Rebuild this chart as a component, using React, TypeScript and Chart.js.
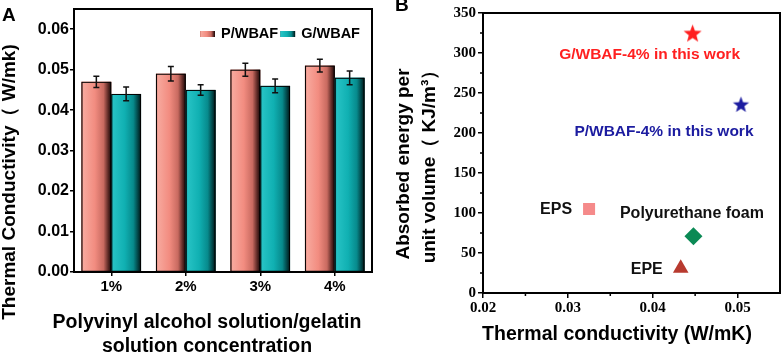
import React, { useEffect, useRef } from 'react';
import { Chart, registerables } from 'chart.js';

Chart.register(...registerables);

// ---------------- data: panel A ----------------
const concentrations = ['1%', '2%', '3%', '4%'];
const seriesNames = ['P/WBAF', 'G/WBAF'];
const pwbafConductivity = [0.047, 0.049, 0.05, 0.051];
const pwbafError = [0.0014, 0.0018, 0.0016, 0.0016];
const gwbafConductivity = [0.044, 0.045, 0.046, 0.048];
const gwbafError = [0.0017, 0.0013, 0.0017, 0.0017];
const barYTicks = [0, 0.01, 0.02, 0.03, 0.04, 0.05, 0.06];

// ---------------- data: panel B ----------------
const materialNames = ['G/WBAF-4% in this work', 'P/WBAF-4% in this work', 'EPS', 'Polyurethane foam', 'EPE'];
const materialConductivity = [0.0447, 0.0504, 0.0325, 0.0448, 0.0433];
const materialEnergy = [325, 236, 105, 71, 31];
const scatterXTicks = [0.02, 0.03, 0.04, 0.05];
const scatterXMinor = [0.025, 0.035, 0.045];
const scatterYTicks = [0, 50, 100, 150, 200, 250, 300, 350];
const scatterYMinor = [25, 75, 125, 175, 225, 275, 325];

// ---------------- styles ----------------
const SANS = "'Liberation Sans', Arial, Helvetica, sans-serif";
const SERIF = "'Liberation Serif', 'Times New Roman', serif";
const barColors = ['#f28c80', '#10b0b2'];
const barStops = [
  [[0, '#c87468'], [0.07, '#f7a89d'], [0.45, '#f28c80'], [0.74, '#c86a60'], [0.9, '#5a2824'], [1, '#180808']],
  [[0, '#0c8c90'], [0.07, '#26c2c4'], [0.45, '#10b0b2'], [0.74, '#078a8c'], [0.9, '#024244'], [1, '#001212']],
];
const markerColors = ['#ff1f1f', '#1c1ca0', '#f58a8a', '#0b8a55', '#b83a2f'];
const labelColors = ['#ff2020', '#1c1ca0', '#111', '#111', '#111'];
const labelFontSizes = [15.5, 15.5, 16, 16, 16];
const labelOffsets = [
  [-43, 22],
  [-77, 28],
  [-33, 1],
  [-1.5, -23],
  [-34, 1],
];

function makeStar(color: string, r: number): HTMLCanvasElement {
  const size = Math.ceil(r * 2 + 2);
  const c = document.createElement('canvas');
  c.width = size;
  c.height = size;
  const ctx = c.getContext('2d')!;
  const cx = size / 2;
  const cy = size / 2 + r * 0.1;
  ctx.beginPath();
  for (let i = 0; i < 10; i++) {
    const ang = -Math.PI / 2 + (i * Math.PI) / 5;
    const rad = i % 2 === 0 ? r : r * 0.42;
    const px = cx + Math.cos(ang) * rad;
    const py = cy + Math.sin(ang) * rad;
    if (i === 0) ctx.moveTo(px, py);
    else ctx.lineTo(px, py);
  }
  ctx.closePath();
  ctx.fillStyle = color;
  ctx.fill();
  return c;
}

const barDecor = {
  id: 'barDecor',
  afterDatasetsDraw(chart: any) {
    const ctx = chart.ctx;
    const yScale = chart.scales.y;
    const errs = [pwbafError, gwbafError];
    chart.data.datasets.forEach((ds: any, di: number) => {
      const meta = chart.getDatasetMeta(di);
      meta.data.forEach((bar: any, i: number) => {
        const { x, y, base, width } = bar.getProps(['x', 'y', 'base', 'width'], true);
        const left = x - width / 2;
        const g = ctx.createLinearGradient(left, 0, left + width, 0);
        barStops[di].forEach((s: any) => g.addColorStop(s[0], s[1]));
        ctx.save();
        ctx.fillStyle = g;
        ctx.fillRect(left, y, width, base - y);
        ctx.strokeStyle = '#000';
        ctx.lineWidth = 1;
        ctx.strokeRect(left + 0.5, y + 0.5, width - 1, base - y - 0.5);
        const v = ds.data[i];
        const e = errs[di][i];
        const yt = yScale.getPixelForValue(v + e);
        const yb = yScale.getPixelForValue(v - e);
        ctx.beginPath();
        ctx.moveTo(x, yt);
        ctx.lineTo(x, yb);
        ctx.moveTo(x - 3, yt);
        ctx.lineTo(x + 3, yt);
        ctx.moveTo(x - 3, yb);
        ctx.lineTo(x + 3, yb);
        ctx.lineWidth = 1.5;
        ctx.strokeStyle = '#111';
        ctx.stroke();
        ctx.restore();
      });
    });
  },
  afterDraw(chart: any) {
    const ctx = chart.ctx;
    const a = chart.chartArea;
    ctx.save();
    ctx.strokeStyle = '#000';
    ctx.lineWidth = 2;
    ctx.strokeRect(a.left, a.top, a.right - a.left, a.bottom - a.top);

    // legend
    ctx.font = `bold 14.5px ${SANS}`;
    ctx.textBaseline = 'middle';
    ctx.textAlign = 'left';
    let lx = a.right - 172;
    const ly = a.top + 25;
    chart.data.datasets.forEach((ds: any, di: number) => {
      const g = ctx.createLinearGradient(lx, 0, lx + 15, 0);
      barStops[di].forEach((s: any) => g.addColorStop(s[0], s[1]));
      ctx.fillStyle = g;
      ctx.fillRect(lx, ly - 3, 15, 6);
      ctx.fillStyle = '#000';
      ctx.fillText(ds.label, lx + 21, ly);
      lx += 21 + ctx.measureText(ds.label).width + 2;
    });

    // titles
    ctx.fillStyle = '#000';
    ctx.font = `bold 19.5px ${SANS}`;
    ctx.textAlign = 'center';
    ctx.textBaseline = 'middle';
    ctx.fillText('Polyvinyl alcohol solution/gelatin', 207, 323);
    ctx.fillText('solution concentration', 207, 347);
    ctx.save();
    ctx.translate(10, 182);
    ctx.rotate(-Math.PI / 2);
    ctx.font = `bold 19px ${SANS}`;
    ctx.fillText('Thermal Conductivity（ W/mk)', 0, 0);
    ctx.restore();
    ctx.font = `bold 19px ${SANS}`;
    ctx.textAlign = 'left';
    ctx.textBaseline = 'alphabetic';
    ctx.fillText('A', 2, 21);
    ctx.restore();
  },
};

const scatterDecor = {
  id: 'scatterDecor',
  afterDraw(chart: any) {
    const ctx = chart.ctx;
    const a = chart.chartArea;
    const xs = chart.scales.x;
    const ys = chart.scales.y;
    ctx.save();
    ctx.strokeStyle = '#000';
    ctx.lineWidth = 2;
    ctx.strokeRect(a.left, a.top, a.right - a.left, a.bottom - a.top);
    ctx.lineWidth = 1.5;
    ctx.beginPath();
    scatterXMinor.forEach((v) => {
      const px = xs.getPixelForValue(v);
      ctx.moveTo(px, a.bottom);
      ctx.lineTo(px, a.bottom + 3);
    });
    scatterYMinor.forEach((v) => {
      const py = ys.getPixelForValue(v);
      ctx.moveTo(a.left, py);
      ctx.lineTo(a.left - 3, py);
    });
    ctx.stroke();

    // point labels
    const meta = chart.getDatasetMeta(0);
    ctx.textAlign = 'center';
    ctx.textBaseline = 'middle';
    meta.data.forEach((pt: any, i: number) => {
      const { x, y } = pt.getProps(['x', 'y'], true);
      ctx.font = `bold ${labelFontSizes[i]}px ${SANS}`;
      ctx.fillStyle = labelColors[i];
      ctx.fillText(materialNames[i], x + labelOffsets[i][0], y + labelOffsets[i][1]);
    });

    // titles
    ctx.fillStyle = '#000';
    ctx.font = `bold 19.5px ${SANS}`;
    ctx.fillText('Thermal conductivity (W/mK)', 225, 335);
    ctx.font = `bold 19px ${SANS}`;
    ctx.save();
    ctx.translate(12, 164);
    ctx.rotate(-Math.PI / 2);
    ctx.fillText('Absorbed energy per', 0, 0);
    ctx.restore();
    ctx.save();
    ctx.translate(38, 162);
    ctx.rotate(-Math.PI / 2);
    ctx.fillText('unit volume（ KJ/m³）', 0, 0);
    ctx.restore();
    ctx.font = `bold 19px ${SANS}`;
    ctx.textAlign = 'left';
    ctx.textBaseline = 'alphabetic';
    ctx.fillText('B', 3, 11);
    ctx.restore();
  },
};

const noPad = (s: any) => {
  s.paddingLeft = 0;
  s.paddingRight = 0;
  s.paddingTop = 0;
  s.paddingBottom = 0;
};

export default function App() {
  const refA = useRef<HTMLCanvasElement>(null);
  const refB = useRef<HTMLCanvasElement>(null);

  useEffect(() => {
    const xFont = { family: SANS, size: 15, weight: 'bold' as const };
    const yFont = { family: SANS, size: 16, weight: 'bold' as const };
    const serifFont = { family: SERIF, size: 15, weight: 'bold' as const };

    const chartA = new Chart(refA.current!, {
      type: 'bar',
      data: {
        labels: concentrations,
        datasets: [
          { label: seriesNames[0], data: pwbafConductivity, backgroundColor: barColors[0], borderWidth: 0 },
          { label: seriesNames[1], data: gwbafConductivity, backgroundColor: barColors[1], borderWidth: 0 },
        ],
      },
      options: {
        responsive: false,
        animation: false,
        devicePixelRatio: 1,
        layout: { autoPadding: false, padding: { left: 0, right: 20, top: 9, bottom: 0 } },
        plugins: { legend: { display: false }, tooltip: { enabled: false } },
        datasets: { bar: { categoryPercentage: 0.8, barPercentage: 1.0 } },
        scales: {
          x: {
            grid: { display: true, drawOnChartArea: false, offset: false, tickLength: 4, color: '#000', lineWidth: 1.5 },
            border: { display: true, color: '#000', width: 2 },
            ticks: { color: '#000', font: xFont, padding: 2 },
            afterFit: (s: any) => {
              s.height = 84;
              noPad(s);
            },
          },
          y: {
            min: 0,
            max: 0.065,
            afterBuildTicks: (s: any) => {
              s.ticks = barYTicks.map((v) => ({ value: v }));
            },
            grid: { display: true, drawOnChartArea: false, tickLength: 4, color: '#000', lineWidth: 1.5 },
            border: { display: true, color: '#000', width: 2 },
            ticks: { color: '#000', font: yFont, padding: 1, callback: (v: any) => Number(v).toFixed(2) },
            afterFit: (s: any) => {
              s.width = 74;
              noPad(s);
            },
          },
        },
      },
      plugins: [barDecor],
    });

    const styles: any[] = [makeStar(markerColors[0], 9.5), makeStar(markerColors[1], 8.5), 'rect', 'rectRot', 'triangle'];
    const chartB = new Chart(refB.current!, {
      type: 'scatter',
      data: {
        datasets: [
          {
            label: 'materials',
            data: materialConductivity.map((x, i) => ({ x, y: materialEnergy[i] })),
            pointStyle: styles,
            pointRadius: [10, 9, 8.5, 9, 9],
            backgroundColor: markerColors,
            borderWidth: 0,
          },
        ],
      },
      options: {
        responsive: false,
        animation: false,
        devicePixelRatio: 1,
        layout: { autoPadding: false, padding: { left: 0, right: 1, top: 13, bottom: 0 } },
        plugins: { legend: { display: false }, tooltip: { enabled: false } },
        scales: {
          x: {
            type: 'linear',
            min: 0.02,
            max: 0.055,
            afterBuildTicks: (s: any) => {
              s.ticks = scatterXTicks.map((v) => ({ value: v }));
            },
            grid: { display: true, drawOnChartArea: false, tickLength: 5, color: '#000', lineWidth: 1.5 },
            border: { display: true, color: '#000', width: 2 },
            ticks: { color: '#000', font: serifFont, padding: 1, callback: (v: any) => Number(v).toFixed(2) },
            afterFit: (s: any) => {
              s.height = 63;
              noPad(s);
            },
          },
          y: {
            min: 0,
            max: 350,
            afterBuildTicks: (s: any) => {
              s.ticks = scatterYTicks.map((v) => ({ value: v }));
            },
            grid: { display: true, drawOnChartArea: false, tickLength: 5, color: '#000', lineWidth: 1.5 },
            border: { display: true, color: '#000', width: 2 },
            ticks: { color: '#000', font: serifFont, padding: 2 },
            afterFit: (s: any) => {
              s.width = 91;
              noPad(s);
            },
          },
        },
      },
      plugins: [scatterDecor],
    });

    return () => {
      chartA.destroy();
      chartB.destroy();
    };
  }, []);

  return (
    <div style={{ position: 'absolute', left: 0, top: 0, width: 781, height: 356, background: '#fff', overflow: 'hidden' }}>
      <canvas ref={refA} width={392} height={356} style={{ position: 'absolute', left: 0, top: 0, width: 392, height: 356 }} />
      <canvas ref={refB} width={389} height={356} style={{ position: 'absolute', left: 392, top: 0, width: 389, height: 356 }} />
    </div>
  );
}
